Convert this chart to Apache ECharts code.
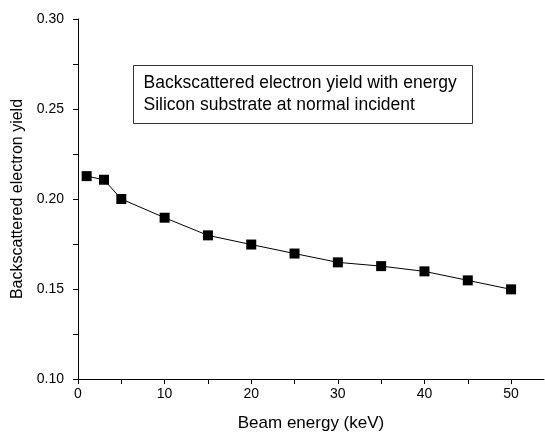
<!DOCTYPE html>
<html>
<head>
<meta charset="utf-8">
<script src="https://cdn.jsdelivr.net/npm/echarts@6/dist/echarts.min.js"></script>
<style>
html,body{margin:0;padding:0;background:#fff;}
#chart{width:545px;height:437px;}
</style>
</head>
<body>
<div id="chart"></div>
<script>
// beam energy (keV) and backscattered yield
var energy = [1, 3, 5, 10, 15, 20, 25, 30, 35, 40, 45, 50];
var yieldVals = [0.2127, 0.2107, 0.2000, 0.1896, 0.1798, 0.1747, 0.1697, 0.1648, 0.1627, 0.1598, 0.1548, 0.1498];
var xTicks = [0, 5, 10, 15, 20, 25, 30, 35, 40, 45, 50];
var xLabels = [0, 10, 20, 30, 40, 50];
var yTicks = [0.10, 0.125, 0.15, 0.175, 0.20, 0.225, 0.25, 0.275, 0.30];
var yLabels = [0.10, 0.15, 0.20, 0.25, 0.30];
var noteLines = ['Backscattered electron yield with energy', 'Silicon substrate at normal incident'];

var chart = echarts.init(document.getElementById('chart'));
var pts = [];
for (var i = 0; i < energy.length; i++) {
	pts.push([energy[i], yieldVals[i]]);
}

var option = {
	animation: false,
	backgroundColor: '#fff',
	grid: { left: 78, top: 19, right: 1, bottom: 55 },
	xAxis: {
		type: 'value',
		min: 0,
		max: 53.8,
		name: 'Beam energy (keV)',
		nameLocation: 'middle',
		nameGap: 36,
		nameTextStyle: { fontFamily: 'Liberation Sans', fontSize: 17, color: '#000' },
		axisLine: { lineStyle: { color: '#000', width: 1 } },
		axisTick: { show: true, inside: false, length: 5, customValues: xTicks, lineStyle: { color: '#000' } },
		axisLabel: { customValues: xLabels, fontFamily: 'Liberation Sans', fontSize: 14, color: '#000', margin: 8 },
		splitLine: { show: false }
	},
	yAxis: {
		type: 'value',
		min: 0.10,
		max: 0.30,
		name: 'Backscattered electron yield',
		nameLocation: 'middle',
		nameGap: 52,
		nameTextStyle: { fontFamily: 'Liberation Sans', fontSize: 16, color: '#000' },
		axisLine: { show: true, lineStyle: { color: '#000', width: 1 } },
		axisTick: { show: true, inside: false, length: 5, customValues: yTicks, lineStyle: { color: '#000' } },
		axisLabel: {
			customValues: yLabels,
			fontFamily: 'Liberation Sans', fontSize: 14, color: '#000', margin: 14,
			formatter: function (v) { return v.toFixed(2); }
		},
		splitLine: { show: false }
	},
	graphic: [{
		type: 'group',
		left: 133,
		top: 65,
		children: [{
			type: 'rect',
			shape: { x: 0, y: 0, width: 339, height: 58 },
			style: { fill: '#fff', stroke: '#333', lineWidth: 1 }
		}, {
			type: 'text',
			x: 10,
			y: 7,
			style: {
				text: noteLines.join('\n'),
				font: '17.5px "Liberation Sans"',
				lineHeight: 22,
				fill: '#000'
			}
		}]
	}],
	series: [{
		type: 'line',
		data: pts,
		symbol: 'rect',
		symbolSize: 10,
		itemStyle: { color: '#000' },
		lineStyle: { color: '#000', width: 1 }
	}]
};
chart.setOption(option);
</script>
</body>
</html>
